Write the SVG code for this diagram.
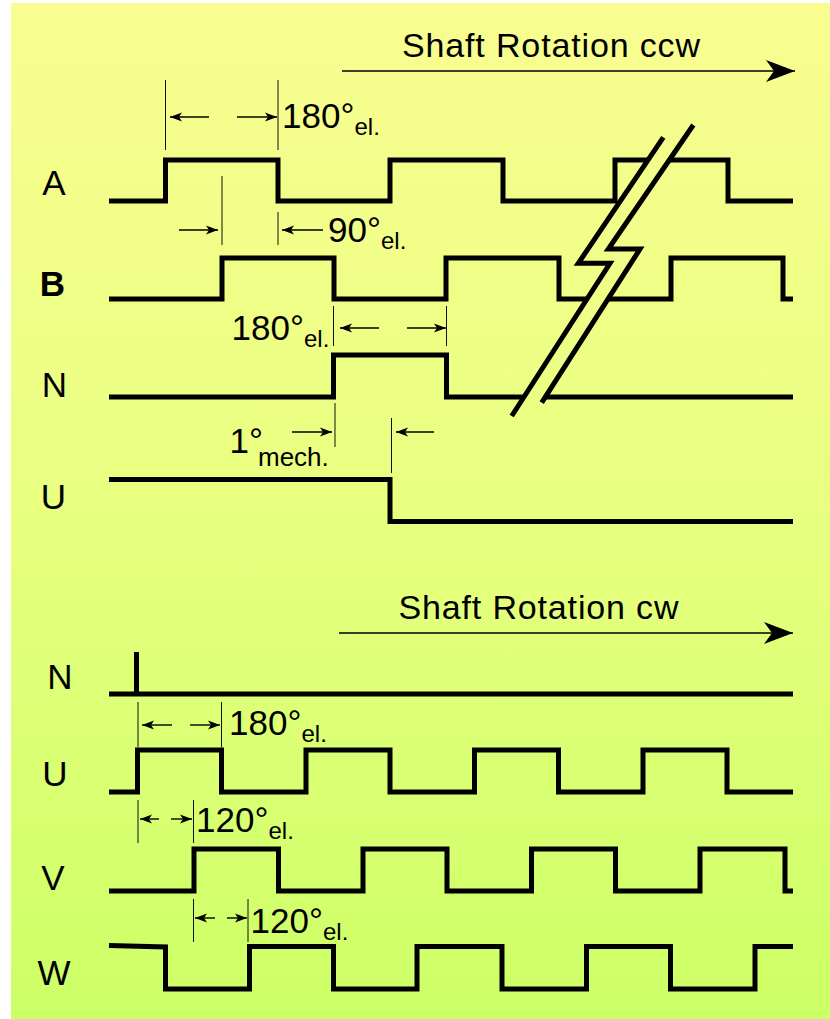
<svg xmlns="http://www.w3.org/2000/svg" width="830" height="1019" viewBox="0 0 830 1019">
<defs>
<linearGradient id="bg" gradientUnits="userSpaceOnUse" x1="0" y1="3" x2="0" y2="1019">
<stop offset="0" stop-color="#f9fd90"/>
<stop offset="0.5" stop-color="#e8ff80"/>
<stop offset="1" stop-color="#ccff66"/>
</linearGradient>
<marker id="dim" markerUnits="userSpaceOnUse" markerWidth="14" markerHeight="12" refX="12" refY="0" viewBox="0 -6 14 12" orient="auto" overflow="visible">
<path d="M0,-4.5 L12,0 L0,4.5 L3,0 Z" fill="#000"/>
</marker>
<marker id="big" markerUnits="userSpaceOnUse" markerWidth="30" markerHeight="24" refX="29" refY="0" viewBox="0 -12 30 24" orient="auto" overflow="visible">
<path d="M0,-11 L29,0 L0,11 L8,0 Z" fill="#000"/>
</marker>
</defs>
<style>
.wave{fill:none;stroke:#000;stroke-width:5;stroke-linejoin:miter;stroke-linecap:butt}
.ext{stroke:#111;stroke-width:1}
.arr{stroke:#000;stroke-width:1.4;fill:none;marker-end:url(#dim)}
.rot{stroke:#000;stroke-width:1.5;fill:none;marker-end:url(#big)}
.lbl{font-family:"Liberation Sans",Arial,sans-serif;font-size:35px;fill:#000;text-anchor:middle}
.num{font-family:"Liberation Sans",Arial,sans-serif;font-size:35px;fill:#000}
.sub{font-size:24px}
.title{font-family:"Liberation Sans",Arial,sans-serif;font-size:34px;fill:#000}
</style>
<rect x="11" y="3" width="819" height="1016" fill="url(#bg)"/>

<g id="ch-A">
<text class="lbl" x="54" y="195">A</text>
<path class="wave" d="M109,201 H165.5 V160 H278 V201 H390 V160 H503 V201 H615 V160 H728 V201 H793"/>
</g>
<g id="ch-B">
<text class="lbl" x="52.5" y="296" font-weight="bold">B</text>
<path class="wave" d="M109,299 H222 V258 H334 V299 H446 V258 H559 V299 H671 V258 H783 V299 H793"/>
</g>
<g id="ch-N">
<text class="lbl" x="54.5" y="397">N</text>
<path class="wave" d="M109,397 H333.5 V355 H446.5 V397 H793"/>
</g>
<g id="ch-U">
<text class="lbl" x="53.5" y="509">U</text>
<path class="wave" d="M109,479.5 H390 V521.5 H793"/>
</g>

<g id="break">
<polygon points="663.3,137.3 578.3,263.3 610,263.3 511.7,416 541.7,402.7 640,249 608.3,249 693.3,125" fill="url(#bg)"/>
<polyline class="wave" points="663.3,137.3 578.3,263.3 610,263.3 511.7,416"/>
<polyline class="wave" points="693.3,125 608.3,249 640,249 541.7,402.7"/>
</g>

<g id="ch-N2">
<text class="lbl" x="60" y="689">N</text>
<path class="wave" d="M109,694 H793 M136.5,652 V694"/>
</g>
<g id="ch-U2">
<text class="lbl" x="55" y="786">U</text>
<path class="wave" d="M109,792 H137.5 V750 H221.5 V792 H306 V750 H390 V792 H474.5 V750 H558.5 V792 H643 V750 H727 V792 H793"/>
</g>
<g id="ch-V">
<text class="lbl" x="53" y="890">V</text>
<path class="wave" d="M109,891 H194 V849 H278.5 V891 H363 V849 H447 V891 H531.5 V849 H615.5 V891 H700 V849 H785 V891 H793"/>
</g>
<g id="ch-W">
<text class="lbl" x="54" y="985">W</text>
<path class="wave" d="M109,945.5 L165.5,947 V989 H249.5 V946.5 H333.5 V989 H417 V946.5 H502 V989 H586.5 V946.5 H670.5 V989 H755 V946.5 H793"/>
</g>

<g id="connectors">
<g id="rotation-ccw">
<text class="title" x="402" y="57" textLength="298" lengthAdjust="spacing">Shaft Rotation ccw</text>
<line class="rot" x1="342" y1="71" x2="795" y2="71"/>
</g>
<g id="rotation-cw">
<text class="title" x="398.5" y="619" textLength="280" lengthAdjust="spacing">Shaft Rotation cw</text>
<line class="rot" x1="339" y1="633" x2="793" y2="633"/>
</g>

<g id="dim-A-180">
<line class="ext" x1="165.5" y1="80" x2="165.5" y2="150"/>
<line class="ext" x1="278" y1="80" x2="278" y2="150"/>
<line class="arr" x1="209" y1="117" x2="170" y2="117"/>
<line class="arr" x1="237" y1="117" x2="277" y2="117"/>
<text class="num" x="282" y="128">180°<tspan class="sub" x="354.5" y="135">el.</tspan></text>
</g>
<g id="dim-AB-90">
<line class="ext" x1="222" y1="176" x2="222" y2="245"/>
<line class="ext" x1="278" y1="212" x2="278" y2="245"/>
<line class="arr" x1="179" y1="230" x2="218" y2="230"/>
<line class="arr" x1="323" y1="230" x2="282" y2="230"/>
<text class="num" x="328" y="242">90°<tspan class="sub" x="381" y="249">el.</tspan></text>
</g>
<g id="dim-BN-180">
<line class="ext" x1="333.5" y1="306" x2="333.5" y2="346"/>
<line class="ext" x1="446.5" y1="306" x2="446.5" y2="346"/>
<line class="arr" x1="379" y1="328" x2="340" y2="328"/>
<line class="arr" x1="407" y1="328" x2="446" y2="328"/>
<text class="num" x="231.5" y="340">180°<tspan class="sub" x="304" y="347">el.</tspan></text>
</g>
<g id="dim-NU-mech">
<line class="ext" x1="335" y1="403" x2="335" y2="447"/>
<line class="ext" x1="391.5" y1="418" x2="391.5" y2="473"/>
<line class="arr" x1="292" y1="432" x2="332" y2="432"/>
<line class="arr" x1="434" y1="432" x2="396" y2="432"/>
<text class="num" x="229.5" y="453" font-size="34">1°<tspan x="258" y="466" font-size="26">mech.</tspan></text>
</g>
<g id="dim-U2-180">
<line class="ext" x1="138" y1="702" x2="138" y2="747"/>
<line class="ext" x1="221.5" y1="702" x2="221.5" y2="747"/>
<line class="arr" x1="172" y1="725" x2="142" y2="725"/>
<line class="arr" x1="190" y1="725" x2="220" y2="725"/>
<text class="num" x="229" y="735">180°<tspan class="sub" x="301.5" y="742">el.</tspan></text>
</g>
<g id="dim-UV-120">
<line class="ext" x1="138" y1="800" x2="138" y2="843"/>
<line class="ext" x1="193.5" y1="800" x2="193.5" y2="843"/>
<line class="arr" x1="159" y1="819" x2="140" y2="819"/>
<line class="arr" x1="171" y1="819" x2="192" y2="819"/>
<text class="num" x="196" y="832">120°<tspan class="sub" x="268.5" y="839">el.</tspan></text>
</g>
<g id="dim-VW-120">
<line class="ext" x1="193.5" y1="899" x2="193.5" y2="942"/>
<line class="ext" x1="248" y1="899" x2="248" y2="942"/>
<line class="arr" x1="215" y1="918" x2="195" y2="918"/>
<line class="arr" x1="227" y1="918" x2="247" y2="918"/>
<text class="num" x="250.5" y="933">120°<tspan class="sub" x="323" y="940">el.</tspan></text>
</g>
</g>
</svg>
